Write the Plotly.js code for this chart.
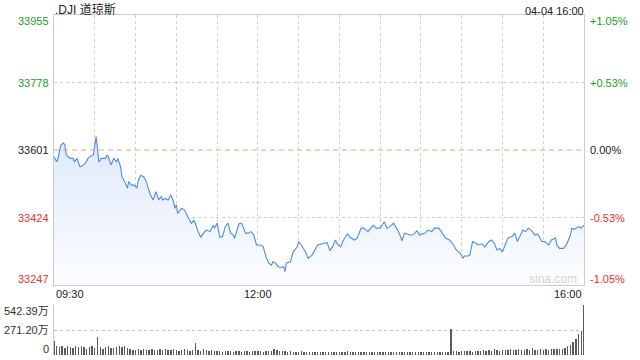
<!DOCTYPE html>
<html><head><meta charset="utf-8">
<script src="https://cdn.plot.ly/plotly-3.0.1.min.js"></script>
<style>html,body{margin:0;padding:0;background:#fff;}#chart{width:640px;height:360px;}</style>
</head><body><div id="chart"></div>
<script>
const tradeDate = "2023-04-04";
const prevClose = 33601;
const priceTicks = [33247, 33424, 33601, 33778, 33955];
const pctLabels = ["-1.05%", "-0.53%", "0.00%", "+0.53%", "+1.05%"];
const volTicks = [0, 271.20, 542.39];
const volLabels = ["0", "271.20万", "542.39万"];
const xLabels = ["09:30", "12:00", "16:00"];

const times = ["09:30","09:32","09:33","09:35","09:37","09:38","09:39","09:42","09:44","09:45","09:47","09:49","09:50","09:53","09:55","09:56","09:59","10:01","10:02","10:03","10:05","10:08","10:09","10:10","10:12","10:14","10:16","10:17","10:19","10:20","10:22","10:24","10:25","10:27","10:29","10:31","10:32","10:34","10:36","10:38","10:39","10:41","10:43","10:45","10:47","10:49","10:50","10:52","10:54","10:56","10:58","10:59","11:00","11:01","11:04","11:06","11:09","11:11","11:13","11:14","11:16","11:18","11:20","11:22","11:25","11:27","11:28","11:30","11:32","11:34","11:36","11:38","11:40","11:42","11:43","11:46","11:47","11:48","11:51","11:53","11:55","11:57","11:59","12:02","12:04","12:06","12:08","12:10","12:11","12:13","12:15","12:17","12:19","12:20","12:21","12:24","12:26","12:29","12:30","12:32","12:35","12:37","12:40","12:42","12:44","12:48","12:51","12:53","12:55","12:57","12:59","13:01","13:03","13:06","13:08","13:11","13:13","13:16","13:18","13:21","13:23","13:25","13:27","13:30","13:33","13:35","13:37","13:40","13:42","13:44","13:46","13:48","13:52","13:54","13:57","13:59","14:03","14:05","14:08","14:10","14:13","14:15","14:18","14:21","14:24","14:26","14:29","14:31","14:32","14:35","14:36","14:38","14:41","14:42","14:45","14:47","14:50","14:52","14:54","14:56","14:58","15:00","15:03","15:04","15:07","15:09","15:11","15:13","15:15","15:17","15:19","15:21","15:24","15:26","15:29","15:31","15:34","15:36","15:39","15:40","15:42","15:45","15:47","15:50","15:51","15:53","15:56","15:58","16:00"];
const prices = [33583,33570,33580,33614,33619,33614,33588,33579,33579,33570,33579,33557,33557,33566,33579,33583,33588,33636,33605,33570,33579,33579,33588,33583,33562,33579,33570,33579,33557,33531,33518,33501,33518,33509,33509,33501,33522,33535,33531,33518,33505,33483,33470,33492,33470,33479,33470,33474,33470,33483,33465,33448,33457,33435,33448,33444,33422,33409,33417,33409,33387,33372,33383,33391,33387,33404,33396,33409,33372,33374,33400,33409,33383,33378,33370,33407,33409,33409,33383,33383,33387,33378,33352,33352,33347,33321,33304,33299,33308,33304,33295,33293,33295,33282,33305,33308,33334,33347,33361,33352,33334,33317,33326,33339,33352,33356,33358,33337,33347,33365,33352,33347,33365,33381,33372,33365,33370,33396,33396,33387,33396,33404,33396,33396,33413,33396,33400,33409,33396,33383,33363,33383,33378,33378,33389,33378,33383,33391,33387,33396,33396,33387,33370,33365,33352,33339,33330,33317,33323,33323,33326,33361,33356,33352,33355,33347,33361,33365,33356,33339,33343,33334,33361,33370,33374,33383,33361,33378,33391,33387,33396,33391,33378,33380,33361,33361,33352,33365,33370,33352,33343,33343,33352,33378,33396,33393,33400,33396,33404];

// volume, 2-minute bars from 09:30, unit 万
const volStart = "09:30";
const volumes = [
155,100,85,95,80,100,90,75,95,85,
100,85,70,90,95,75,190,90,70,85,
95,80,75,90,100,85,95,80,60,55,
55,60,50,65,55,50,60,55,50,60,
55,60,50,55,60,50,45,55,60,50,
45,55,125,50,45,60,55,40,50,45,
40,45,35,40,45,40,35,45,40,35,
40,45,35,40,38,45,40,35,42,38,
45,60,55,40,42,38,35,40,30,35,
32,38,30,35,33,28,36,30,32,35,
30,28,34,30,32,36,28,30,45,30,
32,30,28,34,30,32,28,30,35,30,
28,32,30,34,28,30,32,28,30,34,
30,28,32,30,34,30,28,32,30,35,
30,32,34,30,36,32,280,38,40,35,
42,38,45,40,36,42,38,45,50,40,
55,48,60,52,45,58,50,55,60,52,
55,60,50,58,62,55,80,52,58,60,
55,62,58,65,60,70,62,68,75,100,
110,140,175,230,265,542.39];

function toTs(t){ return tradeDate + " " + t + ":00"; }
const xs = times.map(toTs);
const base = new Date(tradeDate + "T" + volStart + ":00Z").getTime();
const volX = volumes.map((v,i)=>{ const d=new Date(base + i*120000); return tradeDate+" "+d.toISOString().substr(11,8); });

const FONT = 'Arial, "Liberation Sans", "Noto Sans CJK SC", sans-serif';
const GREEN = "#1aa01a", RED = "#f0302a", BLACK = "#222";
const colorFor = v => v > prevClose ? GREEN : (v < prevClose ? RED : BLACK);

const traces = [
  {x: xs, y: prices, type: "scatter", mode: "lines", xaxis: "x", yaxis: "y",
   line: {color: "#4f8be8", width: 1.1},
   fill: "tozeroy",
   fillgradient: {type: "vertical", start: priceTicks[0], stop: 33640,
     colorscale: [[0, "rgba(252,253,255,1)"], [1, "rgba(222,233,251,1)"]]},
   hoverinfo: "skip"},
  {x: volX, y: volumes, type: "bar", xaxis: "x2", yaxis: "y2",
   marker: {color: "#5a5a5a", line: {width: 0}}, width: 60000, hoverinfo: "skip"}
];

const annotations = [];
priceTicks.forEach((v,i)=>{
  const shift = i===0 ? 6 : (i===priceTicks.length-1 ? -6 : 0);
  annotations.push({xref:"paper", yref:"y", x:0, y:v, xanchor:"right", yanchor:"middle", xshift:-3, yshift:shift,
    text:String(v), showarrow:false, font:{family:FONT, size:11, color:colorFor(v)}});
  annotations.push({xref:"paper", yref:"y", x:1, y:v, xanchor:"left", yanchor:"middle", xshift:4, yshift:shift,
    text:pctLabels[i], showarrow:false, font:{family:FONT, size:11, color:colorFor(v)}});
});
volTicks.forEach((v,i)=>{
  const shift = i===0 ? 6 : (i===volTicks.length-1 ? -6 : 0);
  annotations.push({xref:"paper", yref:"y2", x:0, y:v, xanchor:"right", yanchor:"middle", xshift:-3, yshift:shift,
    text:volLabels[i], showarrow:false, font:{family:FONT, size:11, color:"#333"}});
});
const xlPos = [[toTs(xLabels[0]),"left"],[toTs(xLabels[1]),"center"],[toTs(xLabels[2]),"right"]];
xlPos.forEach((p,i)=>{
  annotations.push({xref:"x", yref:"paper", x:p[0], y:0.2059, xanchor:p[1], yanchor:"top", yshift:-1,
    text:xLabels[i], showarrow:false, font:{family:FONT, size:11, color:"#222"}});
});
annotations.push({xref:"paper", yref:"paper", x:0, y:1, xanchor:"left", yanchor:"bottom", yshift:-4, xshift:-1,
  text:".DJI 道琼斯", showarrow:false, font:{family:FONT, size:12, color:"#222"}});
annotations.push({xref:"paper", yref:"paper", x:1, y:1, xanchor:"right", yanchor:"bottom", yshift:-4, xshift:2,
  text:"04-04 16:00", showarrow:false, font:{family:FONT, size:11, color:"#222"}});
annotations.push({xref:"paper", yref:"y", x:0.99, y:priceTicks[0], xanchor:"right", yanchor:"bottom", yshift:-3,
  text:"sina.com", showarrow:false, font:{family:FONT, size:12, color:"#d4d4d4"}});

const layout = {
  width: 640, height: 360,
  margin: {l: 54, r: 56, t: 15, b: 5},
  paper_bgcolor: "#fff", plot_bgcolor: "#fff",
  showlegend: false,
  xaxis: {type: "date", domain: [0,1], anchor: "y",
    range: [toTs("09:30"), toTs("16:00")],
    tick0: toTs("09:30"), dtick: 1800000,
    showgrid: true, griddash: "dot", gridcolor: "#cfcfcf", gridwidth: 1,
    showticklabels: false, ticks: "", zeroline: false,
    showline: true, mirror: true, linecolor: "#cccccc", linewidth: 1},
  yaxis: {domain: [0.2059, 1], anchor: "x",
    range: [priceTicks[0], priceTicks[4]],
    tickvals: [priceTicks[1], priceTicks[3]],
    showgrid: true, griddash: "dot", gridcolor: "#cfcfcf", gridwidth: 1,
    showticklabels: false, ticks: "", zeroline: false,
    showline: true, mirror: true, linecolor: "#cccccc", linewidth: 1},
  xaxis2: {type: "date", domain: [0,1], anchor: "y2", matches: "x",
    showgrid: false, showticklabels: false, ticks: "", zeroline: false, showline: false},
  yaxis2: {domain: [0, 0.147], anchor: "x2",
    range: [0, volTicks[2]],
    tickvals: [volTicks[1], volTicks[2]],
    showgrid: true, griddash: "dot", gridcolor: "#c0c0c0", gridwidth: 1,
    showticklabels: false, ticks: "", zeroline: false,
    showline: true, linecolor: "#cccccc", linewidth: 1},
  shapes: [
    {type: "line", xref: "paper", yref: "y", x0: 0, x1: 1, y0: prevClose, y1: prevClose,
     line: {color: "#f0a070", width: 1, dash: "5px,4px"}}
  ],
  annotations: annotations,
  bargap: 0
};
Plotly.newPlot("chart", traces, layout, {staticPlot: true, displayModeBar: false});
</script></body></html>
